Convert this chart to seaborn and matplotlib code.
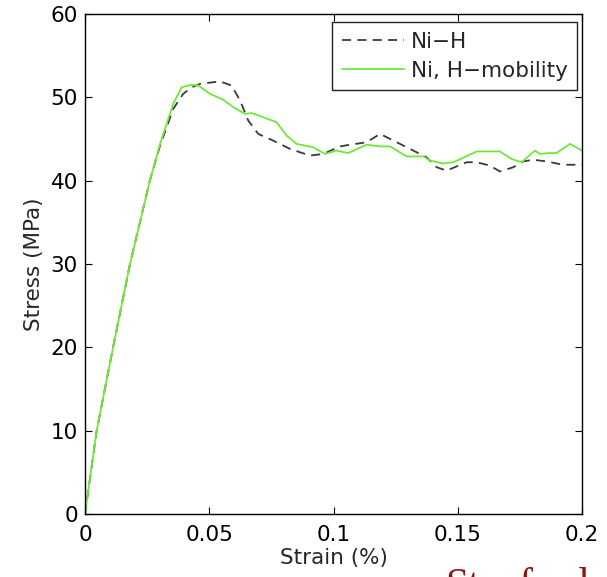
import numpy as np
import pandas as pd
import matplotlib
matplotlib.use('Agg')
import matplotlib.pyplot as plt
import seaborn as sns

# Ni-H (dashed)
strain_nih = [0, 0.0047, 0.0113, 0.0181, 0.0261, 0.0302, 0.0355, 0.0395, 0.0430, 0.0463,
              0.0543, 0.059, 0.0624, 0.0657, 0.0697, 0.0757, 0.0825, 0.0905, 0.0959, 0.1026,
              0.1066, 0.1133, 0.1187, 0.1254, 0.1321, 0.1374, 0.1415, 0.1455, 0.1495, 0.1535,
              0.1576, 0.1629, 0.1669, 0.1723, 0.1763, 0.1803, 0.1857, 0.1924, 0.2]
stress_nih = [0, 10, 20, 30, 40, 44.2, 48.6, 50.4, 51.2, 51.6,
              51.9, 51.4, 49.6, 47.2, 45.6, 44.8, 43.8, 43.0, 43.2, 44.1,
              44.3, 44.6, 45.6, 44.6, 43.6, 42.8, 41.6, 41.2, 41.7, 42.2,
              42.2, 41.8, 41.1, 41.6, 42.3, 42.5, 42.3, 41.9, 41.9]

# Ni, H-mobility (green)
strain_mob = [0, 0.0047, 0.0113, 0.0181, 0.0261, 0.0302, 0.0355, 0.0389, 0.0429, 0.0456,
              0.0503, 0.0556, 0.0597, 0.0644, 0.0671, 0.0717, 0.0771, 0.0811, 0.0852, 0.0918,
              0.0965, 0.1012, 0.1059, 0.1133, 0.1187, 0.1227, 0.1294, 0.1361, 0.1388, 0.1441,
              0.1482, 0.1576, 0.1669, 0.1716, 0.1757, 0.181, 0.183, 0.1865, 0.1897, 0.1951, 0.2]
stress_mob = [0, 10, 20, 30, 40, 44.4, 49.2, 51.2, 51.5, 51.4,
              50.4, 49.7, 48.8, 48.0, 48.1, 47.6, 47.0, 45.4, 44.4, 44.0,
              43.2, 43.6, 43.3, 44.3, 44.1, 44.1, 42.9, 42.9, 42.4, 42.05,
              42.2, 43.5, 43.5, 42.6, 42.2, 43.6, 43.2, 43.3, 43.3, 44.4, 43.6]

xticks = [0, 0.05, 0.1, 0.15, 0.2]
xtick_labels = ['0', '0.05', '0.1', '0.15', '0.2']
yticks = [0, 10, 20, 30, 40, 50, 60]

sns.set_style('ticks')
plt.rcParams['font.family'] = ['DejaVu Sans']

df_nih = pd.DataFrame({'strain': strain_nih, 'stress': stress_nih})
df_mob = pd.DataFrame({'strain': strain_mob, 'stress': stress_mob})

fig = plt.figure(figsize=(6.07, 5.77), dpi=100)
ax = fig.add_axes([0.140, 0.109, 0.819, 0.867])

sns.lineplot(data=df_nih, x='strain', y='stress', ax=ax, sort=False, estimator=None,
             color='#3a3a3a', lw=1.3, label='Ni\u2212H')
ax.lines[-1].set_dashes([5, 3.5])
sns.lineplot(data=df_mob, x='strain', y='stress', ax=ax, sort=False, estimator=None,
             color='#6fe83a', lw=1.3, label='Ni, H\u2212mobility')

ax.set_xlim(0, 0.2)
ax.set_ylim(0, 60)
ax.set_xticks(xticks)
ax.set_xticklabels(xtick_labels)
ax.set_yticks(yticks)
ax.tick_params(direction='in', top=True, right=True, length=5, width=0.8,
               labelsize=15.5, colors='black')
ax.tick_params(axis='x', pad=8)
ax.tick_params(axis='y', pad=5)
for s in ax.spines.values():
    s.set_visible(True)
    s.set_linewidth(1.0)
    s.set_color('black')
ax.set_xlabel('Strain (%)', fontsize=15.5, labelpad=2)
ax.set_ylabel('Stress (MPa)', fontsize=15.5, labelpad=5)

leg = ax.legend(loc='upper right', bbox_to_anchor=(0.99, 0.984), borderaxespad=0,
                fontsize=15.5, handlelength=2.9, fancybox=False, framealpha=1,
                edgecolor='#222222', borderpad=0.45, labelspacing=0.42, handletextpad=0.3)
leg.get_frame().set_linewidth(1.0)

fig.text(0.733, -0.035, 'Stanford', fontsize=30, color='#8C1515',
         family=['Liberation Serif', 'DejaVu Serif'], ha='left', va='baseline')

fig.savefig('out.png', dpi=100)
